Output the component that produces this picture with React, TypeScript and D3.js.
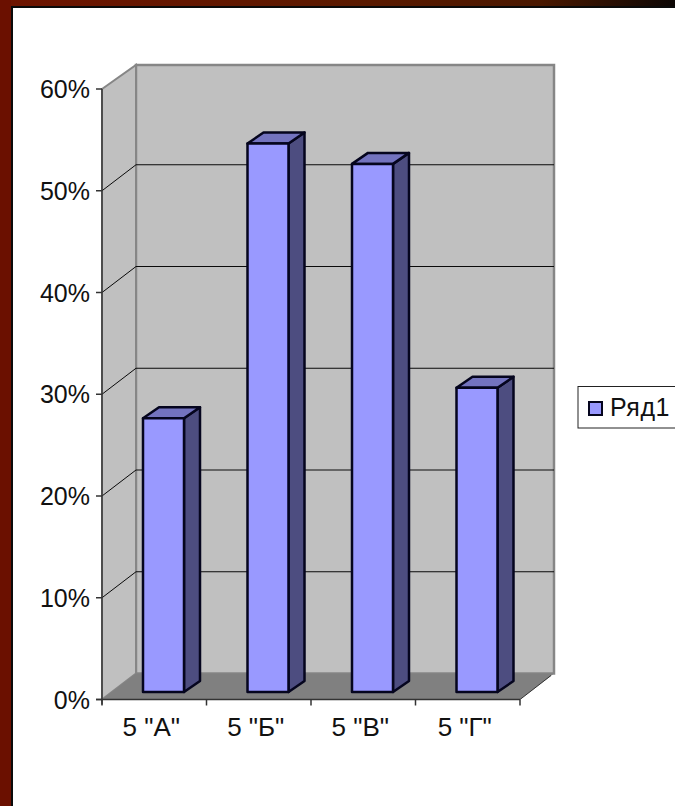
import React from 'react';
import * as d3 from 'd3';

const categories = ['5 "А"', '5 "Б"', '5 "В"', '5 "Г"'];
const values = [27, 54, 52, 30];
const yTicks = [0, 10, 20, 30, 40, 50, 60];
const seriesName = 'Ряд1';

const W = 675, H = 806;
const font = '"Liberation Sans", Arial, sans-serif';
const y = d3.scaleLinear().domain([0, 60]).range([699.5, 89]);
const x = d3.scaleBand<string>().domain(categories).range([102, 520]);
const depth = { dx: 34, top: 24, bottom: 26, grid: 26 };
const barDepth = { dx: 16, dy: 11 };
const barW = 41;
const barInset = 41;
const poly = (p: [number, number][]) => p.map(q => q.join(',')).join(' ');

export default function App() {
  const x0 = x.range()[0], x1 = x.range()[1];
  const yB = y(0), yT = y(60);
  const d = depth;
  return (
    <svg width={W} height={H} style={{ position: 'fixed', left: 0, top: 0, display: 'block' }}>
      <defs>
        <linearGradient id="topBand" x1="0" x2="1" y1="0" y2="0">
          <stop offset="0" stopColor="#6e1400" />
          <stop offset="0.55" stopColor="#5a1a00" />
          <stop offset="0.8" stopColor="#4a1800" />
          <stop offset="1" stopColor="#0c0604" />
        </linearGradient>
      </defs>
      <rect width={W} height={H} fill="#fff" />
      <rect x={0} y={0} width={W} height={6} fill="url(#topBand)" />
      <rect x={0} y={0} width={11} height={H} fill="#6b1000" />
      <rect x={11} y={6} width={W - 11} height={2} fill="#0a0a0a" />
      <rect x={11} y={6} width={2} height={H - 6} fill="#0a0a0a" />

      {/* walls */}
      <polygon points={poly([[x0 + d.dx, yT - d.top], [x1 + d.dx, yT - d.top], [x1 + d.dx, yB - d.bottom], [x0 + d.dx, yB - d.bottom]])} fill="#c0c0c0" stroke="#868686" strokeWidth={2.5} />
      <polygon points={poly([[x0, yT], [x0 + d.dx, yT - d.top], [x0 + d.dx, yB - d.bottom], [x0, yB]])} fill="#c0c0c0" stroke="#868686" strokeWidth={2} />
      <polygon points={poly([[x0, yB], [x0 + d.dx, yB - d.bottom], [x1 + d.dx, yB - d.bottom], [x1, yB]])} fill="#808080" />

      {/* gridlines */}
      {yTicks.filter(t => t > 0 && t < 60).map(t => (
        <polyline key={t} points={poly([[x0, y(t)], [x0 + d.dx, y(t) - d.grid], [x1 + d.dx, y(t) - d.grid]])} fill="none" stroke="#0a0a0a" strokeWidth={1} />
      ))}

      {/* axes */}
      <line x1={x0} x2={x0} y1={yT} y2={yB + 5} stroke="#3a3a3a" strokeWidth={1.5} />
      <line x1={x0 - 6} x2={x1} y1={yB} y2={yB} stroke="#333" strokeWidth={1.5} />
      <line x1={x1} x2={x1 + d.dx - 3} y1={yB} y2={yB - d.bottom + 2} stroke="#333" strokeWidth={1} />
      {yTicks.map(t => (
        <g key={t}>
          <line x1={x0 - 6} x2={x0} y1={y(t)} y2={y(t)} stroke="#333" strokeWidth={1.5} />
          <text x={90} y={y(t)} dy="0.36em" textAnchor="end" fontFamily={font} fontSize={25} fill="#111">{t}%</text>
        </g>
      ))}
      {[...categories.map(c => x(c)!), x1].map((v, i) => (
        <line key={i} x1={v} x2={v} y1={yB} y2={yB + 6} stroke="#333" strokeWidth={1.5} />
      ))}
      {categories.map(c => (
        <text key={c} x={x(c)! + x.bandwidth() / 2 - 3} y={736} textAnchor="middle" fontFamily={font} fontSize={26} fill="#111">{c}</text>
      ))}

      {/* bars */}
      {categories.map((c, i) => {
        const l = x(c)! + barInset, r = l + barW;
        const b = yB - 7.5, t = y(values[i]) - 6.5;
        const { dx, dy } = barDepth;
        return (
          <g key={c} stroke="#05051e" strokeWidth={2.5} strokeLinejoin="round">
            <polygon points={poly([[r, b], [r + dx, b - dy], [r + dx, t - dy], [r, t]])} fill="#4d4d80" />
            <polygon points={poly([[l, t], [l + dx, t - dy], [r + dx, t - dy], [r, t]])} fill="#7373bf" />
            <rect x={l} y={t} width={barW} height={b - t} fill="#9999ff" />
          </g>
        );
      })}

      {/* legend */}
      <rect x={578} y={386.5} width={110} height={41.5} fill="#fff" stroke="#222" strokeWidth={1} />
      <rect x={589} y={402} width={13} height={13} fill="#9999ff" stroke="#05051e" strokeWidth={2} />
      <text x={610} y={416} fontFamily={font} fontSize={25} letterSpacing={0.5} fill="#111">{seriesName}</text>
    </svg>
  );
}
